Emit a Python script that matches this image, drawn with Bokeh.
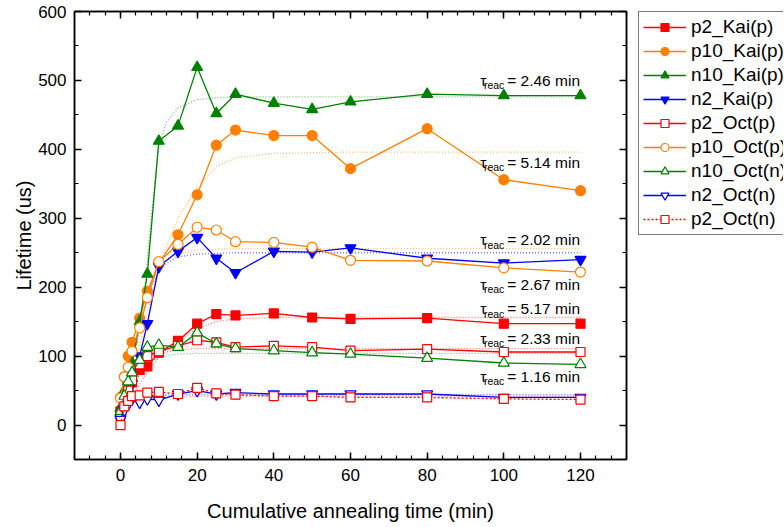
from bokeh.plotting import figure
from bokeh.layouts import row
from bokeh.models import (Legend, LegendItem, LinearAxis, SingleIntervalTicker,
                          Range1d, CustomJSTickFormatter)
from bokeh.core.properties import value
from bokeh.embed import file_html
from bokeh.resources import INLINE

FONT = "Liberation Sans"

# ---------------- data ----------------
t = [0, 1, 2, 3, 5, 7, 10, 15, 20, 25, 30, 40, 50, 60, 80, 100, 120]

p2_kai_p   = [20, 40, 50, 62, 80, 85, 105, 122, 147, 161, 159, 162, 156, 154, 155, 147, 147]
p10_kai_p  = [40, 70, 100, 120, 155, 194, 235, 276, 334, 406, 428, 420, 420, 372, 430, 356, 340]
n10_kai_p  = [25, 50, 65, 90, 150, 219, 412, 434, 519, 452, 480, 467, 458, 469, 480, 478, 478]
n2_kai_p   = [10, 30, 45, 60, 100, 147, 230, 252, 272, 242, 221, 252, 251, 257, 242, 235, 240]
p2_oct_p   = [15, 35, 50, 65, 88, 100, 107, 115, 123, 120, 113, 115, 113, 108, 110, 106, 106]
p10_oct_p  = [39, 70, 84, 107, 141, 185, 237, 262, 287, 283, 266, 265, 258, 239, 238, 228, 222]
n10_oct_n  = [20, 42, 63, 76, 94, 113, 116, 113, 134, 118, 111, 108, 105, 103, 97, 90, 88]
n2_oct_n   = [8, 22, 30, 38, 33, 38, 36, 45, 50, 45, 47, 45, 45, 45, 45, 40, 40]
p2_oct_n   = [0, 27, 35, 42, 43, 47, 48, 45, 54, 46, 44, 42, 42, 40, 40, 38, 37]

# fitted curves (dotted)
t_fit = [0, 2, 4, 6, 8, 10, 12, 15, 20, 25, 30, 40, 60, 80, 100, 120]
fit_n10_kai = [10, 45, 110, 180, 300, 405, 440, 460, 472, 475, 476, 476, 476, 476, 476, 476]
fit_p10_kai = [10, 40, 90, 140, 185, 225, 260, 300, 345, 375, 388, 394, 396, 396, 396, 396]
fit_p10_oct = [15, 70, 130, 175, 205, 225, 238, 248, 254, 255, 256, 256, 256, 256, 256, 256]
fit_n2_kai  = [5, 55, 115, 165, 200, 222, 235, 244, 248, 249, 250, 250, 250, 250, 250, 250]
fit_p2_kai  = [10, 30, 50, 68, 84, 98, 110, 123, 140, 150, 154, 156, 156, 156, 156, 156]
fit_p2_oct_p = [10, 40, 65, 82, 93, 101, 106, 109, 111, 111, 111, 111, 111, 111, 111, 111]
fit_n10_oct = [10, 40, 65, 82, 92, 98, 101, 103, 104, 104, 104, 104, 104, 104, 104, 104]
fit_n2_oct  = [5, 25, 36, 41, 43, 44, 44, 44, 44, 44, 44, 44, 44, 44, 44, 44]
fit_p2_oct_n = [5, 27, 36, 40, 42, 42, 42, 42, 42, 42, 42, 42, 42, 42, 42, 42]

tau_text = [" = 2.46 min", " = 5.14 min", " = 2.02 min", " = 2.67 min",
            " = 5.17 min", " = 2.33 min", " = 1.16 min"]
tau_y = [500, 381, 269, 204, 169, 126, 71]
tau_x = 121

x_ticks_step = 20
y_ticks_step = 100

# ---------------- main figure ----------------
p = figure(frame_width=552, frame_height=448,
           x_range=Range1d(-12, 132), y_range=Range1d(-50, 600),
           output_backend="svg", toolbar_location=None,
           min_border_left=74, min_border_right=12,
           min_border_top=11, min_border_bottom=58,
           background_fill_color="white", border_fill_color="white")
p.xgrid.visible = False
p.ygrid.visible = False
p.outline_line_color = "black"
p.outline_line_width = 1.5

xb = p.below[0]
yl = p.left[0]
xb.ticker = SingleIntervalTicker(interval=x_ticks_step, num_minor_ticks=5)
yl.ticker = SingleIntervalTicker(interval=y_ticks_step, num_minor_ticks=2)
xb.axis_label = "Cumulative annealing time (min)"
yl.axis_label = "Lifetime (us)"

top = LinearAxis(ticker=SingleIntervalTicker(interval=x_ticks_step, num_minor_ticks=5),
                 formatter=CustomJSTickFormatter(code="return ''"))
right = LinearAxis(ticker=SingleIntervalTicker(interval=y_ticks_step, num_minor_ticks=2),
                   formatter=CustomJSTickFormatter(code="return ''"))
p.add_layout(top, "above")
p.add_layout(right, "right")

for ax in [xb, yl, top, right]:
    ax.axis_line_width = 1.5
    ax.axis_line_color = "black"
    ax.major_tick_in = 7
    ax.major_tick_out = 0
    ax.minor_tick_in = 4
    ax.minor_tick_out = 0
    ax.major_tick_line_width = 1.5
    ax.minor_tick_line_width = 1.2
    ax.major_label_text_font = FONT
    ax.major_label_text_font_size = "17px"
    ax.major_label_text_color = "black"
    ax.axis_label_text_font = FONT
    ax.axis_label_text_font_size = "20px"
    ax.axis_label_text_font_style = "normal"
    ax.axis_label_text_color = "black"
for ax in [top, right]:
    ax.major_label_standoff = 0
xb.major_label_standoff = 9
yl.major_label_standoff = 8
xb.axis_label_standoff = 16
yl.axis_label_standoff = 0

RED, ORANGE, GREEN, BLUE = "#FF0000", "#FF8000", "#008000", "#0000FF"

# fits first (underneath)
fits = [(fit_n10_kai, GREEN), (fit_p10_kai, ORANGE), (fit_p10_oct, ORANGE),
        (fit_n2_kai, BLUE), (fit_p2_kai, RED), (fit_p2_oct_p, RED),
        (fit_n10_oct, GREEN), (fit_n2_oct, BLUE), (fit_p2_oct_n, RED)]
for ys, c in fits:
    p.line(t_fit, ys, line_color=c, line_alpha=0.55, line_width=1.3, line_dash="1 2")

series = [
    ("p2_Kai(p)", p2_kai_p, RED, "square", True, "solid", 9),
    ("p10_Kai(p)", p10_kai_p, ORANGE, "circle", True, "solid", 10),
    ("n10_Kai(p)", n10_kai_p, GREEN, "triangle", True, "solid", 11),
    ("n2_Kai(p)", n2_kai_p, BLUE, "inverted_triangle", True, "solid", 11),
    ("p2_Oct(p)", p2_oct_p, RED, "square", False, "solid", 9),
    ("p10_Oct(p)", p10_oct_p, ORANGE, "circle", False, "solid", 10),
    ("n10_Oct(n)", n10_oct_n, GREEN, "triangle", False, "solid", 11),
    ("n2_Oct(n)", n2_oct_n, BLUE, "inverted_triangle", False, "solid", 11),
    ("p2_Oct(n)", p2_oct_n, RED, "square", False, "2 2", 9),
]

# ---------------- legend figure (to the right of the plot) ----------------
# its ranges lie far away from the data, so only the legend shows there
lf = figure(width=145, height=300, x_range=Range1d(-1001, -1000), y_range=Range1d(-1001, -1000),
            output_backend="svg", toolbar_location=None,
            x_axis_location=None, y_axis_location=None,
            min_border_left=0, min_border_right=0, min_border_top=9, min_border_bottom=0,
            outline_line_color=None,
            background_fill_color="white", border_fill_color="white")
lf.xgrid.visible = False
lf.ygrid.visible = False

items = []
for name, ys, c, mk, filled, dash, sz in series:
    fc = c if filled else "white"
    p.line(t, ys, line_color=c, line_width=1.3, line_dash=dash)
    p.scatter(t, ys, marker=mk, size=sz, line_color=c, line_width=1.2, fill_color=fc)
    lr = lf.line(t, ys, line_color=c, line_width=1.3, line_dash=dash)
    sr = lf.scatter(t, ys, marker=mk, size=sz, line_color=c, line_width=1.2, fill_color=fc)
    items.append(LegendItem(label=name, renderers=[lr, sr]))

legend = Legend(items=items, location="top_left", margin=0, padding=4, spacing=2,
                glyph_width=43, glyph_height=20, label_height=20, label_standoff=5,
                label_text_font=FONT, label_text_font_size="19px",
                label_text_color="black", border_line_color="black",
                border_line_width=1.2, background_fill_alpha=1.0)
lf.add_layout(legend)

# tau annotations
tx = [tau_x] * len(tau_y)
p.text(tx, tau_y, text=tau_text, text_align="right", text_baseline="alphabetic",
       text_font=value(FONT), text_font_size="15.5px", text_color="black")
p.text(tx, tau_y, text=["reac"] * len(tau_y), x_offset=-80, y_offset=5,
       text_align="right", text_baseline="alphabetic",
       text_font=value(FONT), text_font_size="10.5px", text_color="black")
p.text(tx, tau_y, text=["\u03c4"] * len(tau_y), x_offset=-98,
       text_align="right", text_baseline="alphabetic",
       text_font=value(FONT), text_font_size="15.5px", text_color="black")

layout = row(p, lf)
open("out.html", "w").write(file_html(layout, INLINE))
